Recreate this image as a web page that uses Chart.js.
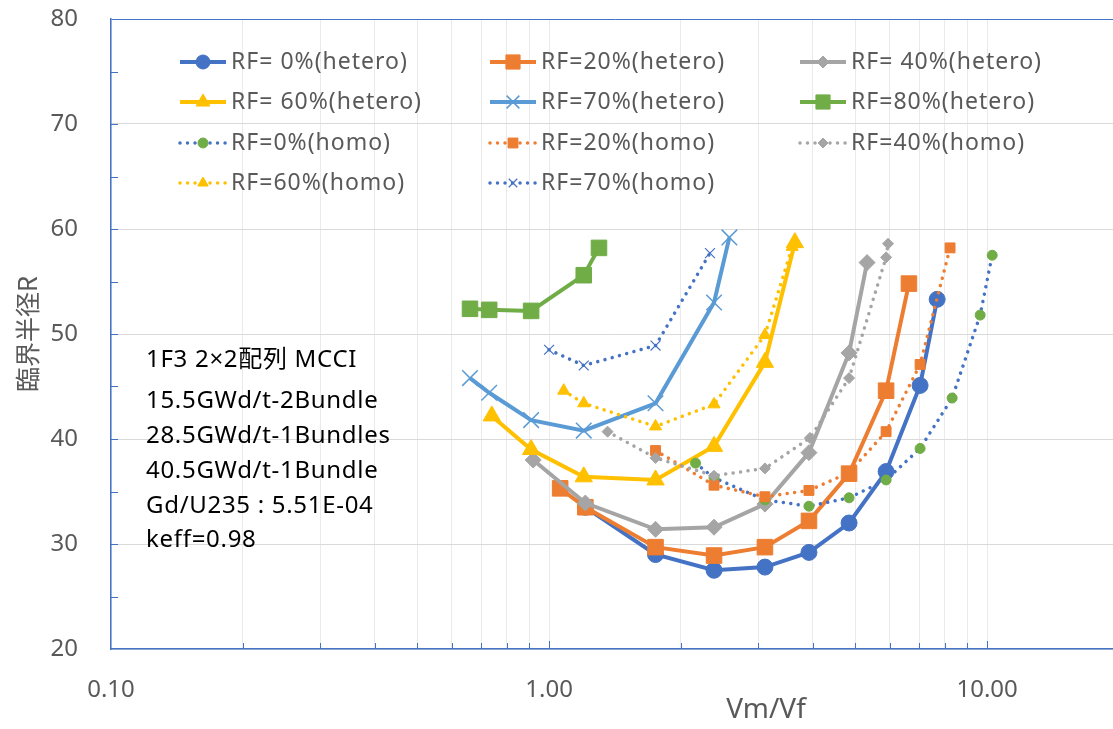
<!DOCTYPE html>
<html>
<head>
<meta charset="utf-8">
<script src="https://cdn.jsdelivr.net/npm/chart.js@4.4.1/dist/chart.umd.min.js"></script>
<style>
  html, body { margin: 0; padding: 0; background: #fff; overflow: hidden; }
  #wrap { width: 1125px; height: 729px; }
</style>
</head>
<body>
<div id="wrap"><canvas id="chart" width="1125" height="729"></canvas></div>
<script>
// --- data (x = Vm/Vf, y = critical radius R) ---
var rf0HeteroX = [1.21, 1.75, 2.38, 3.11, 3.92, 4.84, 5.88, 7.03, 7.69];
var rf0HeteroY = [33.5, 29.0, 27.5, 27.8, 29.2, 32.0, 36.9, 45.1, 53.3];
var rf20HeteroX = [1.06, 1.21, 1.75, 2.38, 3.11, 3.92, 4.84, 5.88, 6.63];
var rf20HeteroY = [35.3, 33.5, 29.7, 28.9, 29.7, 32.2, 36.7, 44.6, 54.8];
var rf40HeteroX = [0.92, 1.21, 1.75, 2.38, 3.11, 3.92, 4.84, 5.32];
var rf40HeteroY = [38.0, 33.9, 31.4, 31.6, 33.8, 38.7, 48.2, 56.8];
var rf60HeteroX = [0.74, 0.91, 1.20, 1.75, 2.38, 3.11, 3.64];
var rf60HeteroY = [42.2, 39.0, 36.4, 36.1, 39.3, 47.3, 58.7];
var rf70HeteroX = [0.66, 0.73, 0.91, 1.20, 1.75, 2.38, 2.58];
var rf70HeteroY = [45.8, 44.4, 41.8, 40.8, 43.4, 53.0, 59.2];
var rf80HeteroX = [0.66, 0.73, 0.91, 1.20, 1.30];
var rf80HeteroY = [52.4, 52.3, 52.2, 55.6, 58.2];

var rf0HomoX = [2.16, 2.38, 3.11, 3.92, 4.84, 5.88, 7.03, 8.32, 9.64, 10.27];
var rf0HomoY = [37.7, 36.3, 34.2, 33.6, 34.4, 36.1, 39.1, 43.9, 51.8, 57.5];
var rf20HomoX = [1.75, 2.38, 3.11, 3.92, 4.84, 5.88, 7.03, 8.23];
var rf20HomoY = [38.9, 35.6, 34.5, 35.1, 36.8, 40.7, 47.1, 58.2];
var rf40HomoX = [1.36, 1.75, 2.38, 3.11, 3.94, 4.84, 5.88, 5.94];
var rf40HomoY = [40.7, 38.2, 36.5, 37.2, 40.1, 45.8, 57.3, 58.6];
var rf60HomoX = [1.08, 1.20, 1.75, 2.38, 3.11, 3.59];
var rf60HomoY = [44.6, 43.4, 41.2, 43.3, 49.9, 58.3];
var rf70HomoX = [1.00, 1.20, 1.75, 2.33];
var rf70HomoY = [48.5, 47.0, 48.9, 57.7];

var seriesLabels = [
  'RF= 0%(hetero)', 'RF=20%(hetero)', 'RF= 40%(hetero)',
  'RF= 60%(hetero)', 'RF=70%(hetero)', 'RF=80%(hetero)',
  'RF=0%(homo)', 'RF=20%(homo)', 'RF=40%(homo)',
  'RF=60%(homo)', 'RF=70%(homo)'
];
var xLabelTicks = [0.1, 1, 10];
var noteLines = [
  '1F3 2\u00d72配列 MCCI',
  '15.5GWd/t-2Bundle',
  '28.5GWd/t-1Bundles',
  '40.5GWd/t-1Bundle',
  'Gd/U235 : 5.51E-04',
  'keff=0.98'
];

var BLUE = '#4472C4', ORANGE = '#ED7D31', GRAY = '#A5A5A5',
    GOLD = '#FFC000', LBLUE = '#5B9BD5', GREEN = '#70AD47';
var TEXT = '#595959';
var FONT = '"Noto Sans", "Open Sans", sans-serif';

function pts(xs, ys) {
  return xs.map(function (x, i) { return { x: x, y: ys[i] }; });
}

function hetero(label, xs, ys, color, style, r, legR) {
  return {
    label: label, data: pts(xs, ys),
    borderColor: color, borderWidth: 4,
    pointStyle: style, pointRadius: r, pointHoverRadius: r,
    pointBackgroundColor: color, pointBorderColor: color, pointBorderWidth: 1,
    legendRadius: legR
  };
}

function homo(label, xs, ys, lineColor, markColor, style, r, legR) {
  return {
    label: label, data: pts(xs, ys),
    borderColor: lineColor, borderWidth: 3.5,
    borderDash: [0.01, 7.5], borderCapStyle: 'round',
    pointStyle: style, pointRadius: r, pointHoverRadius: r,
    pointBackgroundColor: markColor, pointBorderColor: markColor, pointBorderWidth: 1,
    legendRadius: legR
  };
}

var datasets = [
  hetero(seriesLabels[0], rf0HeteroX, rf0HeteroY, BLUE, 'circle', 8, 7),
  hetero(seriesLabels[1], rf20HeteroX, rf20HeteroY, ORANGE, 'rect', 11, 10),
  hetero(seriesLabels[2], rf40HeteroX, rf40HeteroY, GRAY, 'rectRot', 8, 6),
  hetero(seriesLabels[3], rf60HeteroX, rf60HeteroY, GOLD, 'triangle', 10, 8),
  hetero(seriesLabels[4], rf70HeteroX, rf70HeteroY, LBLUE, 'crossRot', 11, 9),
  hetero(seriesLabels[5], rf80HeteroX, rf80HeteroY, GREEN, 'rect', 11, 10),
  homo(seriesLabels[6], rf0HomoX, rf0HomoY, BLUE, GREEN, 'circle', 5, 5),
  homo(seriesLabels[7], rf20HomoX, rf20HomoY, ORANGE, ORANGE, 'rect', 7, 7),
  homo(seriesLabels[8], rf40HomoX, rf40HomoY, GRAY, GRAY, 'rectRot', 5.5, 5),
  homo(seriesLabels[9], rf60HomoX, rf60HomoY, GOLD, GOLD, 'triangle', 7, 6),
  homo(seriesLabels[10], rf70HomoX, rf70HomoY, BLUE, BLUE, 'crossRot', 7, 6)
];
// cross markers are drawn with a thin stroke
datasets[4].pointBorderWidth = 1.5;
datasets[10].pointBorderWidth = 1.2;
// Excel draws later series on top
datasets.forEach(function (ds, i) { ds.order = -i; });

var xGridValues = [];
[0.1, 1, 10].forEach(function (d) {
  for (var k = 1; k <= 9; k++) xGridValues.push(Math.round(d * k * 100) / 100);
});
xGridValues.push(20);

// tick marks, legend, notes and x title
var extras = {
  id: 'extras',
  afterDraw: function (chart) {
    var ctx = chart.ctx, a = chart.chartArea;
    var xs = chart.scales.x, ys = chart.scales.y;
    ctx.save();
    ctx.strokeStyle = BLUE;
    ctx.lineWidth = 1;
    for (var v = 25; v < 80; v += 5) {
      var py = Math.round(ys.getPixelForValue(v)) + 0.5;
      ctx.beginPath(); ctx.moveTo(a.left, py); ctx.lineTo(a.left + 7, py); ctx.stroke();
    }
    xGridValues.forEach(function (xv) {
      if (xv <= 0.1 || xv >= 20) return;
      var px = Math.round(xs.getPixelForValue(xv)) + 0.5;
      var len = xLabelTicks.indexOf(xv) >= 0 ? 8 : 6;
      ctx.beginPath(); ctx.moveTo(px, a.bottom); ctx.lineTo(px, a.bottom - len); ctx.stroke();
    });

    // legend, three columns
    var colX = [180, 490, 800];
    var rowY = [62, 102, 143, 183];
    chart.data.datasets.forEach(function (ds, i) {
      var x0 = colX[i % 3], y = rowY[Math.floor(i / 3)];
      ctx.beginPath();
      ctx.setLineDash(ds.borderDash || []);
      ctx.lineCap = ds.borderCapStyle || 'butt';
      ctx.lineWidth = ds.borderWidth;
      ctx.strokeStyle = ds.borderColor;
      ctx.moveTo(x0, y); ctx.lineTo(x0 + 46, y); ctx.stroke();
      ctx.setLineDash([]);
      ctx.lineCap = 'butt';
      ctx.fillStyle = ds.pointBackgroundColor;
      ctx.strokeStyle = ds.pointBorderColor;
      ctx.lineWidth = ds.pointBorderWidth;
      Chart.helpers.drawPoint(ctx, {
        pointStyle: ds.pointStyle, radius: ds.legendRadius,
        rotation: 0, borderWidth: ds.pointBorderWidth
      }, x0 + 23, y);
      ctx.fillStyle = TEXT;
      ctx.font = '23px ' + FONT;
      ctx.letterSpacing = '1px';
      ctx.textAlign = 'left';
      ctx.textBaseline = 'middle';
      ctx.fillText(ds.label, x0 + 51, y);
    });

    // notes block
    var noteBase = [367, 408, 443, 478, 513, 547];
    ctx.fillStyle = '#000';
    ctx.font = '24px "Noto Sans", "Noto Sans CJK JP", sans-serif';
    ctx.letterSpacing = '0.7px';
    ctx.textAlign = 'left';
    ctx.textBaseline = 'alphabetic';
    noteLines.forEach(function (t, i) { ctx.fillText(t, 146, noteBase[i]); });

    // x axis title
    ctx.letterSpacing = '0px';
    ctx.fillStyle = TEXT;
    ctx.font = '28px ' + FONT;
    ctx.textAlign = 'center';
    ctx.textBaseline = 'middle';
    ctx.fillText('Vm/Vf', 766, 710);
    ctx.restore();
  }
};

new Chart(document.getElementById('chart').getContext('2d'), {
  type: 'line',
  data: { datasets: datasets },
  options: {
    responsive: false,
    animation: false,
    events: [],
    layout: { autoPadding: false, padding: { top: 19, right: 6, left: 0, bottom: 0 } },
    plugins: { legend: { display: false }, tooltip: { enabled: false } },
    elements: { line: { tension: 0, fill: false } },
    scales: {
      x: {
        type: 'logarithmic',
        min: 0.1, max: 20,
        afterBuildTicks: function (scale) {
          scale.ticks = xGridValues.map(function (v) { return { value: v }; });
        },
        afterFit: function (scale) {
          scale.height = 80;
          scale.paddingLeft = 0;
          scale.paddingRight = 0;
        },
        ticks: {
          autoSkip: false, maxRotation: 0, padding: 27,
          color: TEXT, font: { family: FONT, size: 24 },
          callback: function (v) { return xLabelTicks.indexOf(v) >= 0 ? v.toFixed(2) : ''; }
        },
        grid: {
          drawTicks: false,
          color: function (c) { return (c.tick && c.tick.value >= 20) ? 'rgba(0,0,0,0)' : '#EAEAEA'; }
        },
        border: { color: BLUE, width: 1.5 }
      },
      y: {
        type: 'linear',
        min: 20, max: 80,
        afterFit: function (scale) {
          scale.width = 111;
          scale.paddingTop = 0;
          scale.paddingBottom = 0;
        },
        ticks: {
          stepSize: 5, padding: 33,
          color: TEXT, font: { family: FONT, size: 24 },
          callback: function (v) { return v % 10 === 0 ? v : ''; }
        },
        grid: {
          drawTicks: false,
          color: function (c) {
            var v = c.tick ? c.tick.value : 0;
            if (v === 80) return BLUE;
            return v % 10 === 0 ? '#D9D9D9' : 'rgba(0,0,0,0)';
          }
        },
        border: { color: BLUE, width: 1.5 },
        title: {
          display: true, text: '臨界半径R', color: TEXT,
          font: { family: '"Noto Sans CJK JP", "Noto Sans", sans-serif', size: 25 },
          padding: { top: 12, bottom: 0 }
        }
      }
    }
  },
  plugins: [extras]
});
</script>
</body>
</html>
